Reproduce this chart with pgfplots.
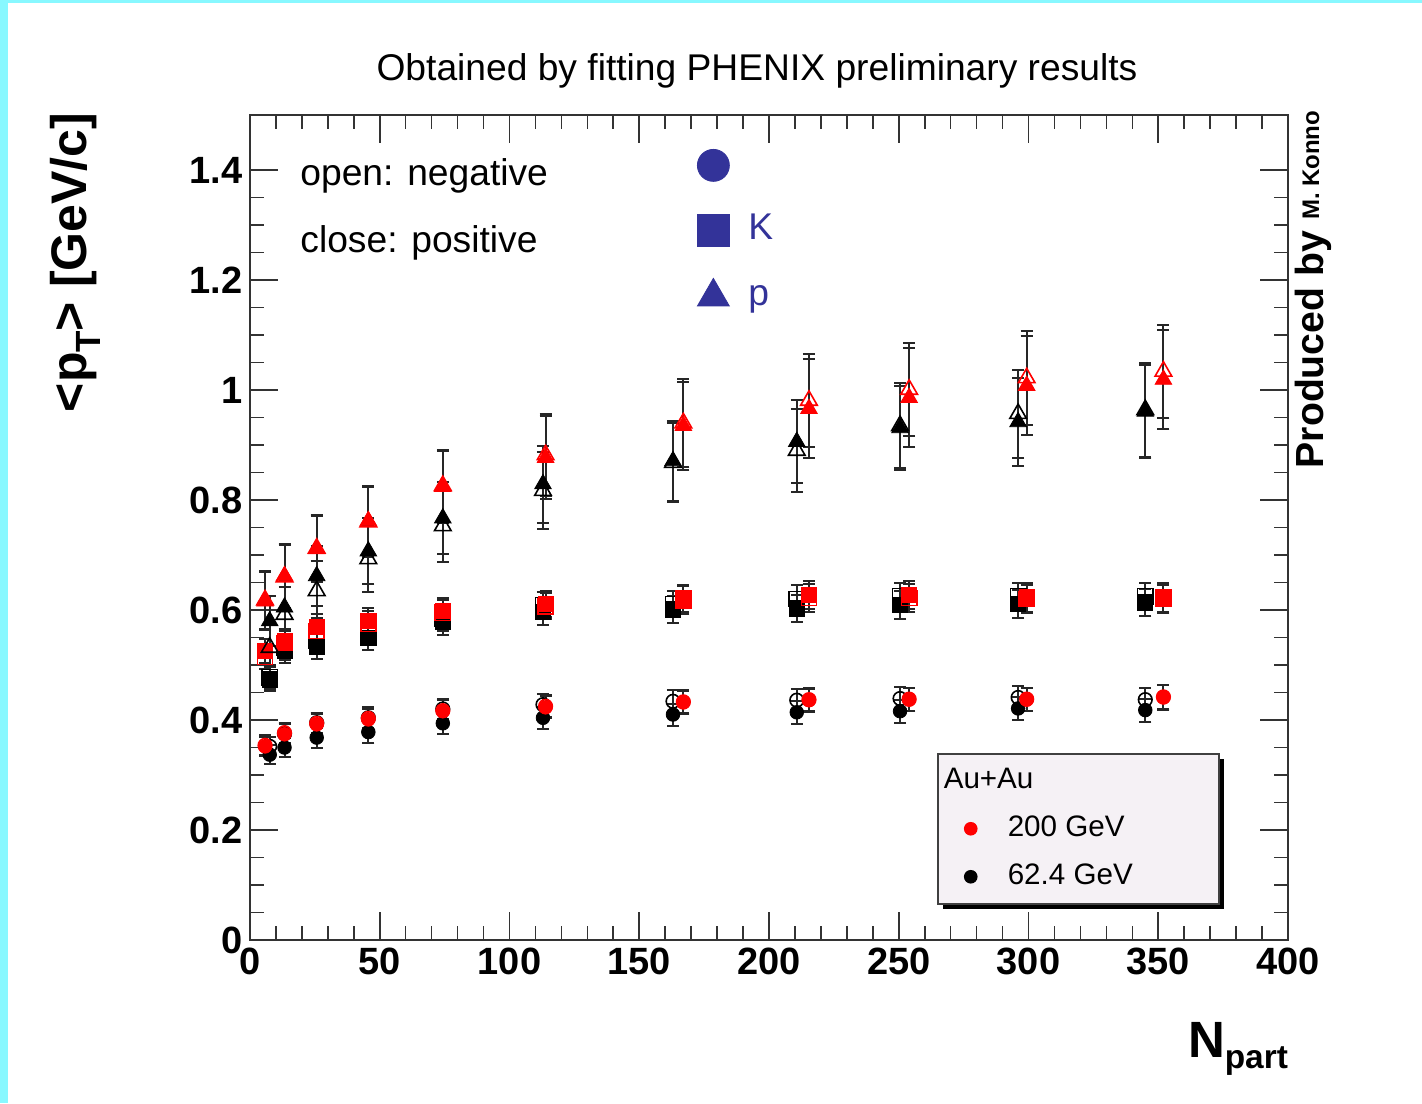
\documentclass[border=0pt]{standalone}
\usepackage{fontspec}
\setmainfont{Liberation Sans}
\usepackage{pgfplots}
\pgfplotsset{compat=1.18}
\usepackage{pgfplotstable}
\usetikzlibrary{shadows}
\definecolor{rootblue}{RGB}{51,51,153}
\definecolor{cyanframe}{RGB}{136,248,255}
\definecolor{legfill}{RGB}{245,241,245}

% 200 GeV (red), 62.4 GeV (black); Pos = filled, Neg = open
\pgfplotstableread{
x y e
5.8 0.352 0.018
13.3 0.374 0.018
25.7 0.392 0.019
45.6 0.401 0.019
74.3 0.416 0.020
113.9 0.423 0.020
167 0.432 0.021
215.4 0.436 0.021
254 0.437 0.021
299.3 0.437 0.021
352 0.441 0.022
}\tPiPosH
\pgfplotstableread{
x y e
5.8 0.354 0.018
13.3 0.377 0.018
25.7 0.394 0.019
45.6 0.403 0.019
74.3 0.417 0.020
113.9 0.425 0.020
167 0.433 0.021
215.4 0.437 0.021
254 0.438 0.021
299.3 0.438 0.021
352 0.442 0.022
}\tPiNegH
\pgfplotstableread{
x y e
7.6 0.337 0.017
13.3 0.350 0.018
25.7 0.368 0.018
45.6 0.378 0.019
74.3 0.394 0.019
112.9 0.404 0.020
163 0.410 0.020
210.7 0.414 0.021
250.5 0.416 0.021
296 0.421 0.021
345 0.418 0.021
}\tPiPosL
\pgfplotstableread{
x y e
7.6 0.352 0.017
13.3 0.375 0.018
25.7 0.395 0.018
45.6 0.404 0.019
74.3 0.420 0.019
112.9 0.428 0.020
163 0.434 0.020
210.7 0.436 0.021
250.5 0.439 0.021
296 0.441 0.021
345 0.437 0.021
}\tPiNegL
\pgfplotstableread{
x y e
5.8 0.525 0.022
13.3 0.543 0.022
25.7 0.569 0.023
45.6 0.580 0.023
74.3 0.598 0.024
113.9 0.611 0.024
167 0.621 0.025
215.4 0.627 0.025
254 0.627 0.025
299.3 0.623 0.026
352 0.623 0.026
}\tKPosH
\pgfplotstableread{
x y e
5.8 0.515 0.022
13.3 0.540 0.022
25.7 0.562 0.023
45.6 0.575 0.023
74.3 0.595 0.024
113.9 0.607 0.024
167 0.618 0.025
215.4 0.622 0.025
254 0.622 0.025
299.3 0.620 0.026
352 0.620 0.026
}\tKNegH
\pgfplotstableread{
x y e
7.6 0.474 0.022
13.3 0.525 0.022
25.7 0.534 0.023
45.6 0.550 0.023
74.3 0.578 0.024
112.9 0.596 0.024
163 0.601 0.024
210.7 0.603 0.025
250.5 0.609 0.025
296 0.611 0.025
345 0.614 0.025
}\tKPosL
\pgfplotstableread{
x y e
7.6 0.478 0.022
13.3 0.532 0.022
25.7 0.545 0.023
45.6 0.560 0.023
74.3 0.585 0.024
112.9 0.609 0.024
163 0.611 0.024
210.7 0.620 0.025
250.5 0.625 0.025
296 0.625 0.025
345 0.625 0.025
}\tKNegL
\pgfplotstableread{
x y e
5.8 0.616 0.053
13.3 0.662 0.058
25.7 0.711 0.060
45.6 0.762 0.064
74.3 0.824 0.065
113.9 0.877 0.075
167 0.935 0.080
215.4 0.966 0.090
254 0.986 0.090
299.3 1.008 0.090
352 1.019 0.090
}\tPPosH
\pgfplotstableread{
x y e
5.8 0.618 0.053
13.3 0.660 0.058
25.7 0.712 0.060
45.6 0.760 0.064
74.3 0.826 0.065
113.9 0.882 0.075
167 0.940 0.080
215.4 0.981 0.085
254 1.001 0.085
299.3 1.022 0.085
352 1.034 0.085
}\tPNegH
\pgfplotstableread{
x y e
7.6 0.580 0.045
13.3 0.605 0.050
25.7 0.662 0.055
45.6 0.707 0.060
74.3 0.767 0.065
112.9 0.829 0.070
163 0.871 0.072
210.7 0.906 0.075
250.5 0.931 0.077
296 0.942 0.080
345 0.961 0.085
}\tPPosL
\pgfplotstableread{
x y e
7.6 0.532 0.045
13.3 0.592 0.050
25.7 0.635 0.055
45.6 0.693 0.060
74.3 0.753 0.065
112.9 0.817 0.070
163 0.868 0.072
210.7 0.890 0.075
250.5 0.935 0.077
296 0.957 0.080
345 0.964 0.085
}\tPNegL

\pgfplotsset{
  pt/.style={only marks, forget plot,
    error bars/y dir=both, error bars/y explicit,
    error bars/error bar style={black!85, line width=1pt},
    error bars/error mark options={rotate=90, black!85, mark size=3pt, line width=1pt}},
  dot legend/.style={legend image code/.code={\draw[##1] plot coordinates {(0pt,0pt)};}},
}

\begin{document}
\begin{tikzpicture}
\path[use as bounding box] (-125pt,-81.5pt) rectangle (586pt,470pt);
\fill[white] (-125pt,-81.5pt) rectangle (586pt,470pt);
\fill[cyanframe] (-125pt,-81.5pt) rectangle (-121pt,470pt);
\fill[cyanframe] (-125pt,468.5pt) rectangle (586pt,470pt);

\begin{axis}[
  at={(0pt,0pt)}, anchor=south west,
  scale only axis, width=519pt, height=412.5pt,
  xmin=0, xmax=400, ymin=0, ymax=1.5,
  xtick={0,50,100,150,200,250,300,350,400},
  xticklabels={0,50,100,150,200,250,300,350,400},
  ytick={0,0.2,0.4,0.6,0.8,1,1.2,1.4},
  yticklabels={0,0.2,0.4,0.6,0.8,1,1.2,1.4},
  minor x tick num=4, minor y tick num=3,
  xtick pos=both, ytick pos=both,
  tick align=inside,
  major tick length=14pt, minor tick length=7pt,
  every tick/.style={black!80, line width=0.8pt},
  axis line style={black!80, line width=1pt},
  /pgf/number format/assume math mode=true,
  tick label style={font=\fontsize{19pt}{22pt}\selectfont\bfseries},
  xticklabel style={inner sep=4pt},
  yticklabel style={inner sep=3.5pt},
  title={Obtained by fitting PHENIX preliminary results},
  title style={at={(axis description cs:0.4884,1.0387)}, anchor=center,
    font=\fontsize{18.6pt}{22pt}\selectfont, inner sep=0pt},
  xlabel={N\raisebox{-5.5pt}{\fontsize{16.7pt}{18pt}\selectfont part}},
  xlabel style={at={(axis description cs:0.9518,-0.1315)}, anchor=center,
    font=\fontsize{25.5pt}{28pt}\selectfont\bfseries, inner sep=0pt},
  ylabel={<p\raisebox{-7pt}{\fontsize{17.5pt}{18pt}\selectfont T}> [GeV/c]},
  ylabel style={at={(axis description cs:-0.1686,0.8212)}, anchor=center,
    font=\fontsize{25pt}{28pt}\selectfont\bfseries, inner sep=0pt},
  legend cell align=left,
  legend style={at={(axis description cs:0.6618,0.2267)}, anchor=north west,
    draw=black!75, line width=0.8pt, fill=legfill,
    drop shadow={shadow xshift=2.5pt, shadow yshift=-2.5pt, fill=black, opacity=1},
    inner xsep=13.5pt, inner ysep=6.5pt, row sep=10pt, column sep=15.5pt,
    font=\fontsize{14.8pt}{17pt}\selectfont,
    nodes={inner xsep=0pt, inner ysep=0pt, text height=11pt, text depth=3pt}},
]
% pions
\addplot[pt, mark=o, black, mark size=3.4pt, mark options={line width=0.8pt}] table[x=x,y=y,y error=e] {\tPiNegL};
\addplot[pt, mark=*, black, mark size=3.4pt] table[x=x,y=y,y error=e] {\tPiPosL};
\addplot[pt, mark=o, red, mark size=3.4pt, mark options={line width=0.8pt}] table[x=x,y=y,y error=e] {\tPiNegH};
\addplot[pt, mark=*, red, mark size=3.4pt] table[x=x,y=y,y error=e] {\tPiPosH};
% kaons
\addplot[pt, mark=square, black, mark size=3.8pt, mark options={line width=0.8pt}] table[x=x,y=y,y error=e] {\tKNegL};
\addplot[pt, mark=square*, black, mark size=3.8pt] table[x=x,y=y,y error=e] {\tKPosL};
\addplot[pt, mark=square, red, mark size=3.8pt, mark options={line width=0.8pt}] table[x=x,y=y,y error=e] {\tKNegH};
\addplot[pt, mark=square*, red, mark size=3.8pt] table[x=x,y=y,y error=e] {\tKPosH};
% protons
\addplot[pt, mark=triangle, black, mark size=4.8pt, mark options={line width=0.8pt}] table[x=x,y=y,y error=e] {\tPNegL};
\addplot[pt, mark=triangle*, black, mark size=4.8pt] table[x=x,y=y,y error=e] {\tPPosL};
\addplot[pt, mark=triangle, red, mark size=4.8pt, mark options={line width=0.8pt}] table[x=x,y=y,y error=e] {\tPNegH};
\addplot[pt, mark=triangle*, red, mark size=4.8pt] table[x=x,y=y,y error=e] {\tPPosH};

\addlegendimage{empty legend}
\addlegendentry{\hspace*{-32pt}Au+Au}
\addlegendimage{only marks, mark=*, red, mark size=3pt, dot legend}
\addlegendentry{200 GeV}
\addlegendimage{only marks, mark=*, black, mark size=3pt, dot legend}
\addlegendentry{62.4 GeV\hspace*{29.5pt}}

\node[anchor=west, font=\fontsize{18.6pt}{22pt}\selectfont, inner sep=0pt] at (rel axis cs:0.0482,0.9261) {open: negative};
\node[anchor=west, font=\fontsize{18.6pt}{22pt}\selectfont, inner sep=0pt] at (rel axis cs:0.0482,0.8449) {close: positive};
\end{axis}

% species key
\begin{axis}[
  at={(0pt,0pt)}, anchor=south west,
  scale only axis, width=519pt, height=412.5pt,
  xmin=0, xmax=400, ymin=0, ymax=1.5,
  hide axis,
  legend cell align=left,
  legend style={at={(axis description cs:0.4306,0.96)}, anchor=north west,
    draw=none, fill=none, inner sep=0pt, row sep=15.5pt, column sep=9.5pt,
    text=rootblue, font=\fontsize{18.6pt}{22pt}\selectfont,
    nodes={inner xsep=0pt, inner ysep=0pt, text height=13pt, text depth=4pt}},
]
\addlegendimage{only marks, mark=*, rootblue, mark size=8pt, dot legend}
\addlegendentry{}
\addlegendimage{only marks, mark=square*, rootblue, mark size=8pt, dot legend}
\addlegendentry{K}
\addlegendimage{only marks, mark=triangle*, rootblue, mark size=9.2pt, dot legend}
\addlegendentry{p}
\end{axis}

\node[rotate=90, anchor=center, inner sep=0pt, font=\fontsize{19.6pt}{22pt}\selectfont\bfseries]
  at (531.5pt,325.25pt) {Produced by \raisebox{2pt}{\fontsize{12pt}{14pt}\selectfont M. Konno}};
\end{tikzpicture}
\end{document}
